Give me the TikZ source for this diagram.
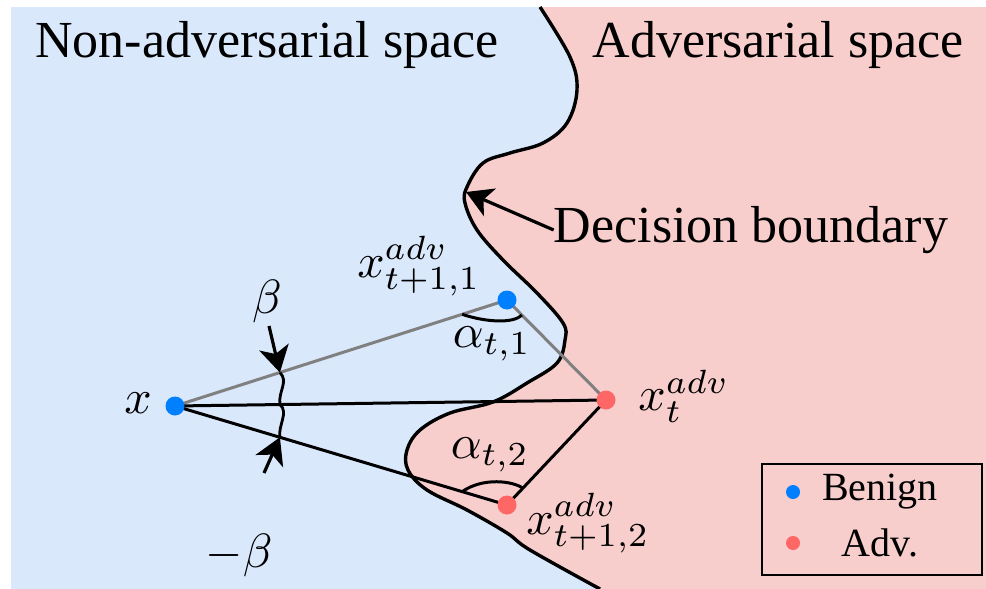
\documentclass[tikz,border=0pt]{standalone}
\usepackage{fontspec}
\setmainfont{Liberation Serif}
\usetikzlibrary{calc,arrows.meta}
\definecolor{benignbg}{HTML}{DAE8FC}
\definecolor{advbg}{HTML}{F8CECC}
\definecolor{benigndot}{HTML}{007FFF}
\definecolor{advdot}{HTML}{FF6666}
\definecolor{grayline}{HTML}{808080}
\tikzset{
  bdot/.style={circle,fill=benigndot,inner sep=0pt,minimum size=19pt},
  adot/.style={circle,fill=advdot,inner sep=0pt,minimum size=19pt},
  ldot/.style={circle,inner sep=0pt,minimum size=14pt},
  title/.style={font=\fontsize{52}{60}\selectfont,inner sep=0pt},
  mathlbl/.style={font=\fontsize{10}{12}\selectfont,inner sep=0pt,scale=4.8},
  legtxt/.style={font=\fontsize{40}{48}\selectfont,inner sep=0pt},
  edge/.style={line width=3pt},
  grayedge/.style={line width=3pt,draw=grayline},
  bigarrow/.style={line width=3.2pt,-{Stealth[length=26pt,width=30pt,inset=7pt]}},
}
\begin{document}
\begin{tikzpicture}[x=1pt,y=-1pt]
\useasboundingbox (0,0) rectangle (986,589);
% backgrounds
\fill[advbg] (11,7) rectangle (986,589);
\fill[benignbg] (11,7) -- (540,7) -- plot[smooth,tension=0.6] coordinates {
 (540,7) (570,57) (577,90) (567,123) (543,143) (510,153) (483,163) (467,187)
 (465,203) (477,230) (503,260) (537,293) (563,323) (565,340) (557,363)
 (527,383) (493,402) (450,413) (420,430) (407,450) (408,470) (427,490)
 (467,510) (507,533) (530,550) (600,589)} -- (11,589) -- cycle;
\draw[line width=3.4pt] plot[smooth,tension=0.6] coordinates {
 (540,7) (570,57) (577,90) (567,123) (543,143) (510,153) (483,163) (467,187)
 (465,203) (477,230) (503,260) (537,293) (563,323) (565,340) (557,363)
 (527,383) (493,402) (450,413) (420,430) (407,450) (408,470) (427,490)
 (467,510) (507,533) (530,550) (600,589)};
% titles
\node[title] (tnon) at (267,45) {Non-adversarial space};
\node[title] (tadv) at (778,45) {Adversarial space};
\node[title] (tdb) at (751,230) {Decision boundary};
\coordinate (dbtip) at (466,192);
\draw[bigarrow] (tdb.west) -- (dbtip);
% points
\coordinate (px) at (175,406);
\coordinate (pa1) at (507,300);
\coordinate (pt) at (606,400);
\coordinate (pa2) at (507,505);
\draw[grayedge] (px) -- (pa1);
\draw[grayedge] (pa1) -- (pt);
\draw[edge] (px) -- (pt);
\draw[edge] (px) -- (pa2);
\draw[edge] (pa2) -- (pt);
% angle arcs
\draw[line width=3pt] ($(pa1)!0.135!(px)$) .. controls ($(pa1)+(-22,22)$) and ($(pa1)+(6,24)$) .. ($(pa1)!0.15!(pt)$);
\draw[line width=3pt] ($(pa2)!0.135!(px)$) .. controls ($(pa2)+(-24,-28)$) and ($(pa2)+(6,-24)$) .. ($(pa2)!0.16!(pt)$);
% beta waves
\coordinate (wtop) at ($(px)!0.316!(pa1)$);
\coordinate (wmid) at ($(px)!0.2436!(pt)$);
\coordinate (wbot) at ($(px)!0.316!(pa2)$);
\draw[line width=2.8pt] (wtop) .. controls ($(wtop)+(9,9)$) and ($(wmid)+(-2,-13)$) .. (wmid)
  .. controls ($(wmid)+(9,8)$) and ($(wbot)+(-2,-12)$) .. (wbot);
\coordinate (btail) at (269,326);
\coordinate (ntail) at (264,473);
\draw[bigarrow] (btail) -- (wtop);
\draw[bigarrow] (ntail) -- (wbot);
% dots
\node[bdot] (x0) at (px) {};
\node[bdot] (a1) at (pa1) {};
\node[adot] (xt) at (pt) {};
\node[adot] (a2) at (pa2) {};
% labels
\node[mathlbl] (lx) at (138,403) {$x$};
\node[mathlbl] (la1) at (419,266) {$x_{t+1,1}^{adv}$};
\node[mathlbl] (lt) at (684,396) {$x_{t}^{adv}$};
\node[mathlbl] (la2) at (588,523) {$x_{t+1,2}^{adv}$};
\node[mathlbl] (lal1) at (492,344) {$\alpha_{t,1}$};
\node[mathlbl] (lal2) at (490,455) {$\alpha_{t,2}$};
\node[mathlbl] (lb) at (267,301) {$\beta$};
\node[mathlbl] (lnb) at (239,555) {$-\beta$};
% legend
\node[draw,line width=2pt,minimum width=220pt,minimum height=111pt,inner sep=0pt] (leg) at (872,519.5) {};
\node[ldot,fill=benigndot] (lgb) at (793,492) {};
\node[ldot,fill=advdot] (lga) at (793,543) {};
\node[legtxt] (ltb) at (880,492) {Benign};
\node[legtxt] (lta) at (880,543) {Adv.};
\end{tikzpicture}
\end{document}
